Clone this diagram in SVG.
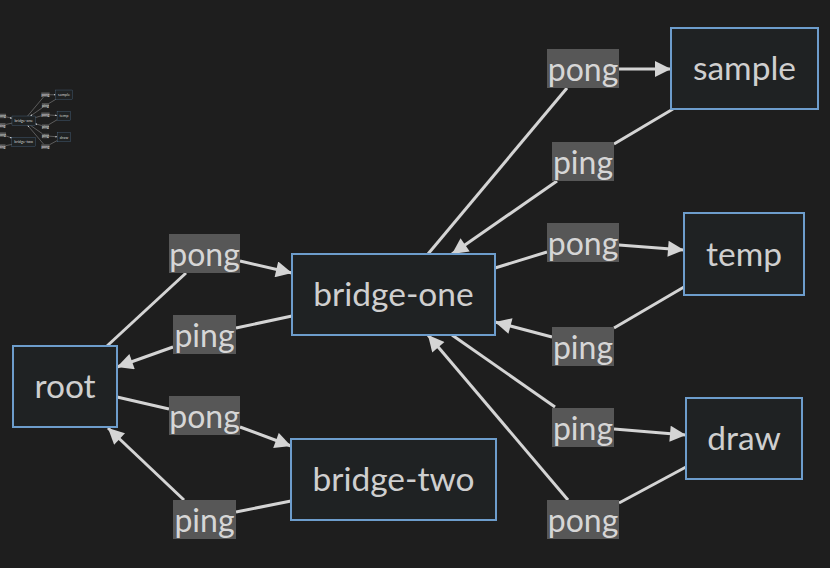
<svg xmlns="http://www.w3.org/2000/svg" xmlns:xlink="http://www.w3.org/1999/xlink" width="830" height="568" viewBox="0 0 830 568">
<defs>
<style>
.node rect{fill:#1f2223;stroke:#6d9dcc;stroke-width:2}
.node text{font-family:Lato,"Noto Sans",sans-serif;font-size:33.5px;fill:#cfcfcf;text-anchor:middle;dominant-baseline:central}
.edge{stroke:#d4d4d4;stroke-width:3;fill:none}
.lbl rect{fill:#575757}
.lbl text{font-family:Lato,"Noto Sans",sans-serif;font-size:32px;fill:#d6d6d6;text-anchor:middle;dominant-baseline:central}
</style>
<marker id="ah" viewBox="0 0 10 10" refX="10" refY="5" markerUnits="userSpaceOnUse" markerWidth="18" markerHeight="16" orient="auto">
<path d="M0,0 L10,5 L0,10 Z" fill="#d4d4d4"/>
</marker>
</defs>
<rect width="830" height="568" fill="#1e1e1e"/>
<g id="diagram">
<g id="connectors">
<path class="edge" d="M107,346 L186,273"/>
<path class="edge" d="M240,261 L292,273" marker-end="url(#ah)"/>
<path class="edge" d="M292,316 L236,328"/>
<path class="edge" d="M173,347 L117,367" marker-end="url(#ah)"/>
<path class="edge" d="M117,397 L169,409"/>
<path class="edge" d="M240,427 L291,446" marker-end="url(#ah)"/>
<path class="edge" d="M291,501 L236,512"/>
<path class="edge" d="M184,500 L108,428" marker-end="url(#ah)"/>
<path class="edge" d="M428,254 L567,88"/>
<path class="edge" d="M619,69 L671,69" marker-end="url(#ah)"/>
<path class="edge" d="M673,109 L614,144"/>
<path class="edge" d="M557,181 L452,254" marker-end="url(#ah)"/>
<path class="edge" d="M495,268 L547,252"/>
<path class="edge" d="M619,245 L684,250" marker-end="url(#ah)"/>
<path class="edge" d="M684,287 L614,328"/>
<path class="edge" d="M552,337 L495,322" marker-end="url(#ah)"/>
<path class="edge" d="M452,335 L555,407"/>
<path class="edge" d="M614,429 L686,435" marker-end="url(#ah)"/>
<path class="edge" d="M686,467 L619,503"/>
<path class="edge" d="M568,500 L428,335" marker-end="url(#ah)"/>
<g class="lbl"><rect x="169" y="234" width="71" height="39"/><text x="204.5" y="253">pong</text></g>
<g class="lbl"><rect x="173" y="315" width="63" height="39"/><text x="204.5" y="334">ping</text></g>
<g class="lbl"><rect x="169" y="396" width="71" height="39"/><text x="204.5" y="415">pong</text></g>
<g class="lbl"><rect x="173" y="500" width="63" height="39"/><text x="204.5" y="519">ping</text></g>
<g class="lbl"><rect x="547" y="49" width="72" height="39"/><text x="583" y="68">pong</text></g>
<g class="lbl"><rect x="552" y="142" width="62" height="39"/><text x="583" y="161">ping</text></g>
<g class="lbl"><rect x="547" y="223" width="72" height="39"/><text x="583" y="242">pong</text></g>
<g class="lbl"><rect x="552" y="327" width="62" height="39"/><text x="583" y="346">ping</text></g>
<g class="lbl"><rect x="552" y="408" width="62" height="39"/><text x="583" y="427">ping</text></g>
<g class="lbl"><rect x="547" y="500" width="72" height="39"/><text x="583" y="519">pong</text></g>
</g>
<g id="root" class="node"><rect x="13" y="346" width="104" height="81"/><text x="65" y="385">root</text></g>
<g id="bridge-one" class="node"><rect x="292" y="254" width="203" height="81"/><text x="393.5" y="293">bridge-one</text></g>
<g id="bridge-two" class="node"><rect x="291" y="439" width="205" height="81"/><text x="393.5" y="478">bridge-two</text></g>
<g id="sample" class="node"><rect x="671" y="28" width="147" height="81"/><text x="744.5" y="67">sample</text></g>
<g id="temp" class="node"><rect x="684" y="213" width="120" height="82"/><text x="744" y="252.5">temp</text></g>
<g id="draw" class="node"><rect x="686" y="398" width="116" height="81"/><text x="744" y="437">draw</text></g>
</g>
<use id="minimap" xlink:href="#diagram" transform="translate(-21.6,86.8) scale(0.115)"/>
</svg>
